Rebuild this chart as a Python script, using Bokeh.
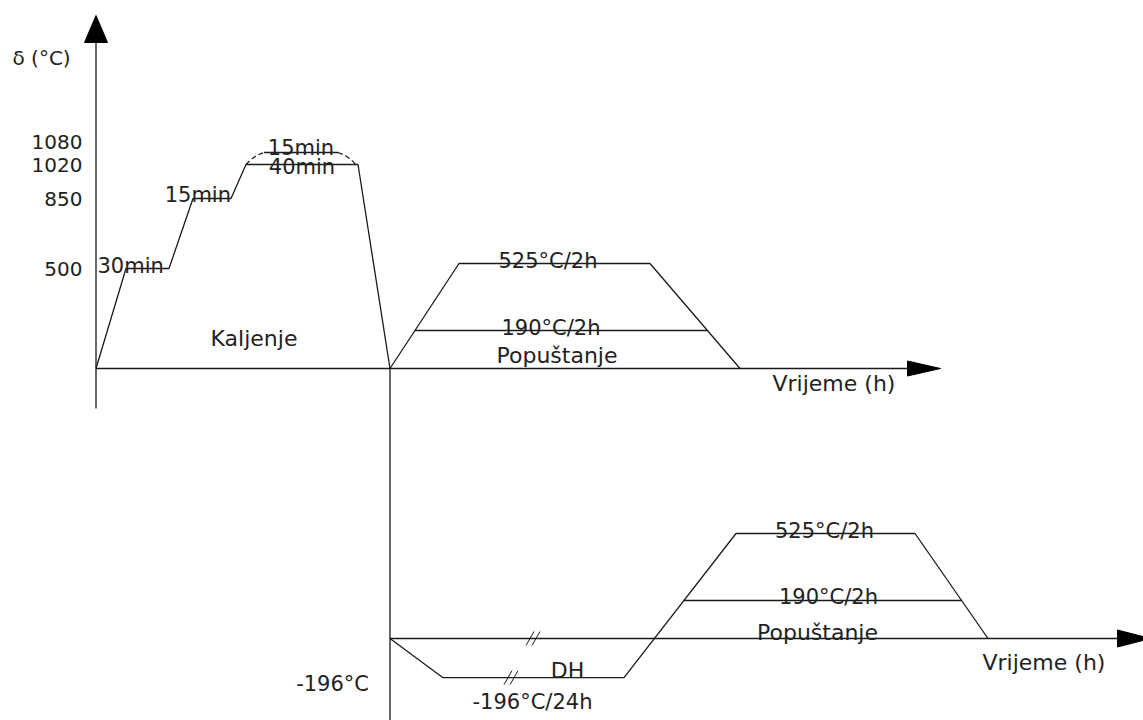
import numpy as np
from bokeh.plotting import figure
from bokeh.models import Range1d
from bokeh.core.properties import value
from bokeh.embed import file_html
from bokeh.resources import INLINE

# ---------------- data (schematic heat-treatment cycles) ----------------
# Kaljenje (hardening): schematic time offsets and temperature in °C
hard_t = [0, 30, 73, 97, 135, 150, 262, 294]
hard_T = [0, 500, 500, 850, 850, 1020, 1020, 0]
# alternative austenitizing at 1080 °C (dashed)
alt_up_t = [150, 155, 161, 168]
alt_up_T = [1020, 1045, 1066, 1080]
alt_hold_t = [168, 242]
alt_hold_T = [1080, 1080]
alt_down_t = [242, 249, 255, 260]
alt_down_T = [1080, 1066, 1045, 1020]

tick_T = [1080, 1020, 850, 500]
tick_labels = ["1080", "1020", "850", "500"]
hold_labels = ["30min", "15min", "15min", "40min"]

# Popuštanje (tempering) after hardening
temp_t = [0, 69, 260, 350]
temp_T = [0, 525, 525, 0]
temp_levels = [525, 190]
temp_labels = ["525°C/2h", "190°C/2h"]

# Duboko hlađenje (DH, -196 °C / 24 h) followed by tempering
dh_t = [0, 53, 234, 346, 525, 598]
dh_T = [0, -196, -196, 525, 525, 0]
dh_level_label = "-196°C/24h"
dh_axis_label = "-196°C"

axis_title_y = "δ (°C)"
axis_title_x = "Vrijeme (h)"
phase_labels = ["Kaljenje", "Popuštanje", "DH"]

# ---------------- layout ----------------
PX = 0.2                 # pixels per °C
X0_TOP = 95.5            # origin of the hardening diagram
XQ = 389.5               # quench point / origin of the lower diagram
BOT_OFF = -(638 - 368) / PX   # vertical offset of the lower diagram


def dy(px):
    return px / PX


def Yp(py):
    return (368 - py) / PX


W, H = 1143, 720
p = figure(width=W, height=H, x_range=Range1d(0, W),
           y_range=Range1d(Yp(H), Yp(0)),
           output_backend="svg", toolbar_location=None, min_border=0,
           x_axis_type=None, y_axis_type=None)
p.grid.visible = False
p.outline_line_color = None
p.background_fill_color = "white"

LC = "#1a1a1a"
LW = 1.3
TC = "#222222"
FONT = value("DejaVu Sans")

# ---- axes of upper diagram ----
p.line([X0_TOP, 907], [0, 0], line_color=LC, line_width=LW)
p.patch([907, 940, 907], [dy(7.5), 0, -dy(7.5)], fill_color="black", line_color="black")
p.line([X0_TOP, X0_TOP], [Yp(408), Yp(42)], line_color=LC, line_width=LW)
p.patch([X0_TOP - 11.5, X0_TOP, X0_TOP + 11.5], [Yp(42), Yp(15), Yp(42)],
        fill_color="black", line_color="black")

# ---- axes of lower diagram ----
p.line([XQ, 1117], [BOT_OFF, BOT_OFF], line_color=LC, line_width=LW)
p.patch([1117, 1150, 1117], [BOT_OFF + dy(8.5), BOT_OFF, BOT_OFF - dy(8.5)],
        fill_color="black", line_color="black")
p.line([XQ, XQ], [0, Yp(725)], line_color=LC, line_width=LW)

# ---- hardening ----
p.line([X0_TOP + t for t in hard_t], hard_T, line_color=LC, line_width=LW)
p.line([X0_TOP + t for t in alt_up_t], alt_up_T, line_color=LC, line_width=1.2, line_dash="5 3")
p.line([X0_TOP + t for t in alt_hold_t], alt_hold_T, line_color=LC, line_width=LW)
p.line([X0_TOP + t for t in alt_down_t], alt_down_T, line_color=LC, line_width=1.2, line_dash="5 3")

# ---- tempering after hardening ----
p.line([XQ + t for t in temp_t], temp_T, line_color=LC, line_width=LW)
xl = XQ + np.interp(temp_levels[1], temp_T[:2], temp_t[:2])
xr = XQ + np.interp(temp_levels[1], temp_T[3:1:-1], temp_t[3:1:-1])
p.line([xl, xr], [temp_levels[1]] * 2, line_color=LC, line_width=LW)

# ---- deep cooling + tempering ----
p.line([XQ + t for t in dh_t], [BOT_OFF + T for T in dh_T], line_color=LC, line_width=LW)
bl = XQ + np.interp(temp_levels[1], dh_T[2:4], dh_t[2:4])
br = XQ + np.interp(temp_levels[1], dh_T[5:3:-1], dh_t[5:3:-1])
p.line([bl, br], [BOT_OFF + temp_levels[1]] * 2, line_color=LC, line_width=LW)

# ---- break marks "//" ----
brk_x = [XQ + 143, XQ + 121]
brk_y = [BOT_OFF, BOT_OFF + dh_T[1]]
x0s, y0s, x1s, y1s = [], [], [], []
for bx, by in zip(brk_x, brk_y):
    for off in (-3, 3):
        x0s.append(bx + off - 4); y0s.append(by - dy(7))
        x1s.append(bx + off + 4); y1s.append(by + dy(7))
p.segment(x0s, y0s, x1s, y1s, line_color=LC, line_width=1.0)


def txt(x, y, s, align="center", size="21px", baseline="alphabetic"):
    p.text(x=[x], y=[y], text=[s], text_font=FONT, text_font_size=size,
           text_align=align, text_baseline=baseline, text_color=TC)


# axis title
txt(12, Yp(57), axis_title_y, align="left", size="20px")
# temperature tick labels
txt(X0_TOP - 13.5, tick_T[0] + dy(11), tick_labels[0], align="right", size="20px",
    baseline="middle")
for T, s in zip(tick_T[1:], tick_labels[1:]):
    txt(X0_TOP - 13.5, T, s, align="right", size="20px", baseline="middle")

# hold labels
txt(X0_TOP + 1.5, 500 + dy(3), hold_labels[0], align="left")
txt(X0_TOP + hard_t[4], 850 + dy(4), hold_labels[1], align="right")
txt(X0_TOP + np.mean(alt_hold_t), 1080 + dy(5), hold_labels[2])
txt(X0_TOP + np.mean(hard_t[5:7]), 1020 - dy(2), hold_labels[3])
txt(X0_TOP + 158, dy(30), phase_labels[0], size="22px")

# upper tempering
txt(XQ + 158, temp_levels[0] + dy(3), temp_labels[0])
txt(XQ + 161, temp_levels[1] + dy(3), temp_labels[1])
txt(XQ + 167, dy(13), phase_labels[1], size="22px")
txt(772, -dy(15), axis_title_x, align="left", size="22px")

# lower diagram
txt(XQ + 434.5, BOT_OFF + temp_levels[0] + dy(3), temp_labels[0])
txt(XQ + 438.5, BOT_OFF + temp_levels[1] + dy(4), temp_labels[1])
txt(XQ + 427.5, BOT_OFF + dy(6), phase_labels[1], size="22px")
txt(982, BOT_OFF - dy(24), axis_title_x, align="left", size="22px")
txt(XQ + 177.5, BOT_OFF - dy(32), phase_labels[2], size="22px")
txt(XQ + 142.5, BOT_OFF + dh_T[1] - dy(24), dh_level_label)
txt(XQ - 21, BOT_OFF + dh_T[1] - dy(6), dh_axis_label, align="right")

open("out.html", "w").write(file_html(p, INLINE))
